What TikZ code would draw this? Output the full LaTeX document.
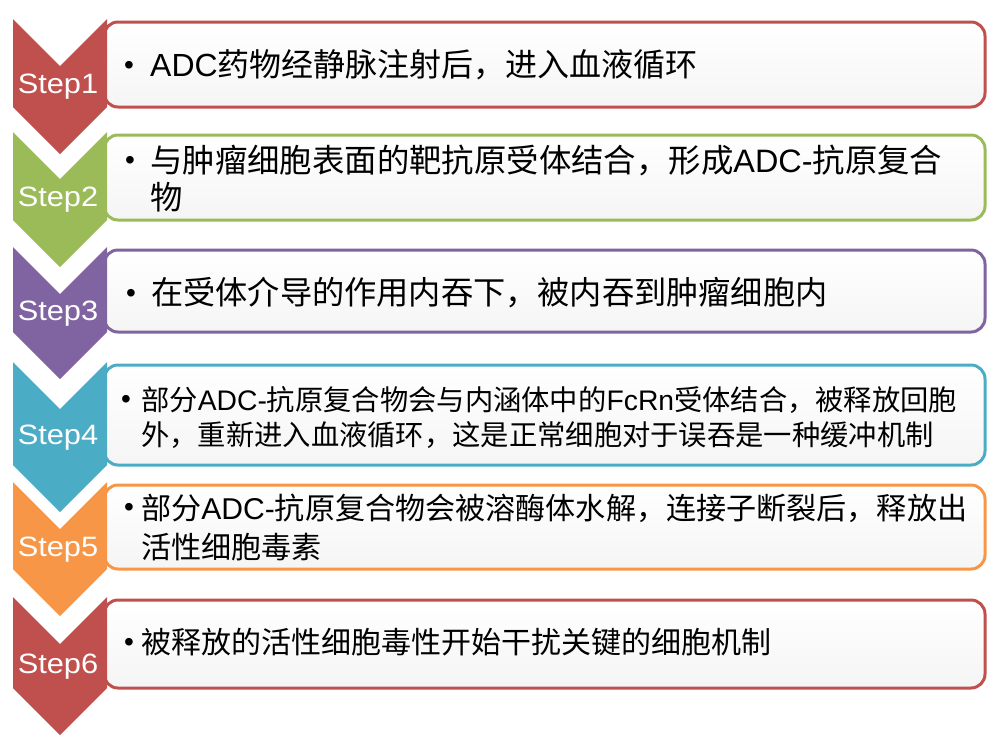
\documentclass[tikz,border=0pt]{standalone}
\usepackage{fontspec}
\setmainfont{Noto Sans CJK SC}
\newfontfamily\latin{Liberation Sans}
\newfontfamily\steplatin[FakeStretch=1.1]{Liberation Sans}
\usepackage{xcolor}
\usepackage{tikz}
\usetikzlibrary{
  positioning
}
\definecolor{stepred}{HTML}{C0504D}
\definecolor{stepgreen}{HTML}{9BBB59}
\definecolor{steppurple}{HTML}{8064A2}
\definecolor{stepteal}{HTML}{4BACC6}
\definecolor{steporange}{HTML}{F79646}
\newcommand{\lat}[1]{{\latin #1}}
\tikzset{
  stepbox/.style={
    draw=#1,
    line width=3pt,
    rounded corners=14pt,
    top color=white,
    bottom color=black!4,
    anchor=north west,
    inner sep=0pt,
    outer sep=0pt},
  steplabel/.style={
    text=white,
    font=\steplatin\fontsize{28}{30}\selectfont,
    inner sep=0pt},
  bullet/.style={
    font=\latin\fontsize{28}{28}\selectfont,
    inner sep=0pt},
  steptext/.style={
    anchor=west,
    align=left,
    inner sep=0pt}
  }

\begin{document}
\begin{tikzpicture}[x=1pt,y=-1pt]
      \useasboundingbox (0,0) rectangle (1000,740);
      \foreach \i/\ytop/\ybot/\col in {1/19/107/stepred, 2/132/220/stepgreen,
          3/247/332/steppurple, 4/362/465/stepteal, 5/482/569/steporange,
          6/597/688/stepred} {
        \node [stepbox=\col, minimum width=881pt, minimum height={\ybot-\ytop-3}]
          (box\i) at (104,\ytop+3) {};
        \fill [\col] (13,\ytop) -- (60,\ytop+47) -- (107,\ytop) -- (107,\ybot)
          -- (60,\ybot+47) -- (13,\ybot) -- cycle;
        \node [steplabel] (step\i) at (58,{(\ytop+\ybot)/2+24}) {Step\i};
      }
      % text of the steps
      \node [bullet] (bul1) at (129,68) {•};
      \node [steptext, font=\fontsize{32}{37}\selectfont] (txt1) at (150,65)
        {\lat{ADC}药物经静脉注射后，进入血液循环};
      \node [bullet] (bul2) at (130,163) {•};
      \node [steptext, font=\fontsize{32.4}{37}\selectfont] (txt2) at (150,178.5)
        {与肿瘤细胞表面的靶抗原受体结合，形成\lat{ADC-}抗原复合\\物};
      \node [bullet] (bul3) at (131,296) {•};
      \node [steptext, font=\fontsize{32.2}{38}\selectfont] (txt3) at (151,293)
        {在受体介导的作用内吞下，被内吞到肿瘤细胞内};
      \node [bullet] (bul4) at (126,402) {•};
      \node [steptext, font=\fontsize{28.3}{35}\selectfont] (txt4) at (141,417)
        {部分\lat{ADC-}抗原复合物会与内涵体中的\lat{FcRn}受体结合，被释放回胞\\
         外，重新进入血液循环，这是正常细胞对于误吞是一种缓冲机制};
      \node [bullet] (bul5) at (129,510) {•};
      \node [steptext, font=\fontsize{30.1}{39}\selectfont] (txt5) at (141,527)
        {部分\lat{ADC-}抗原复合物会被溶酶体水解，连接子断裂后，释放出\\
         活性细胞毒素};
      \node [bullet] (bul6) at (129,645) {•};
      \node [steptext, font=\fontsize{30}{36}\selectfont] (txt6) at (141,642)
        {被释放的活性细胞毒性开始干扰关键的细胞机制};
    \end{tikzpicture}
\end{document}
